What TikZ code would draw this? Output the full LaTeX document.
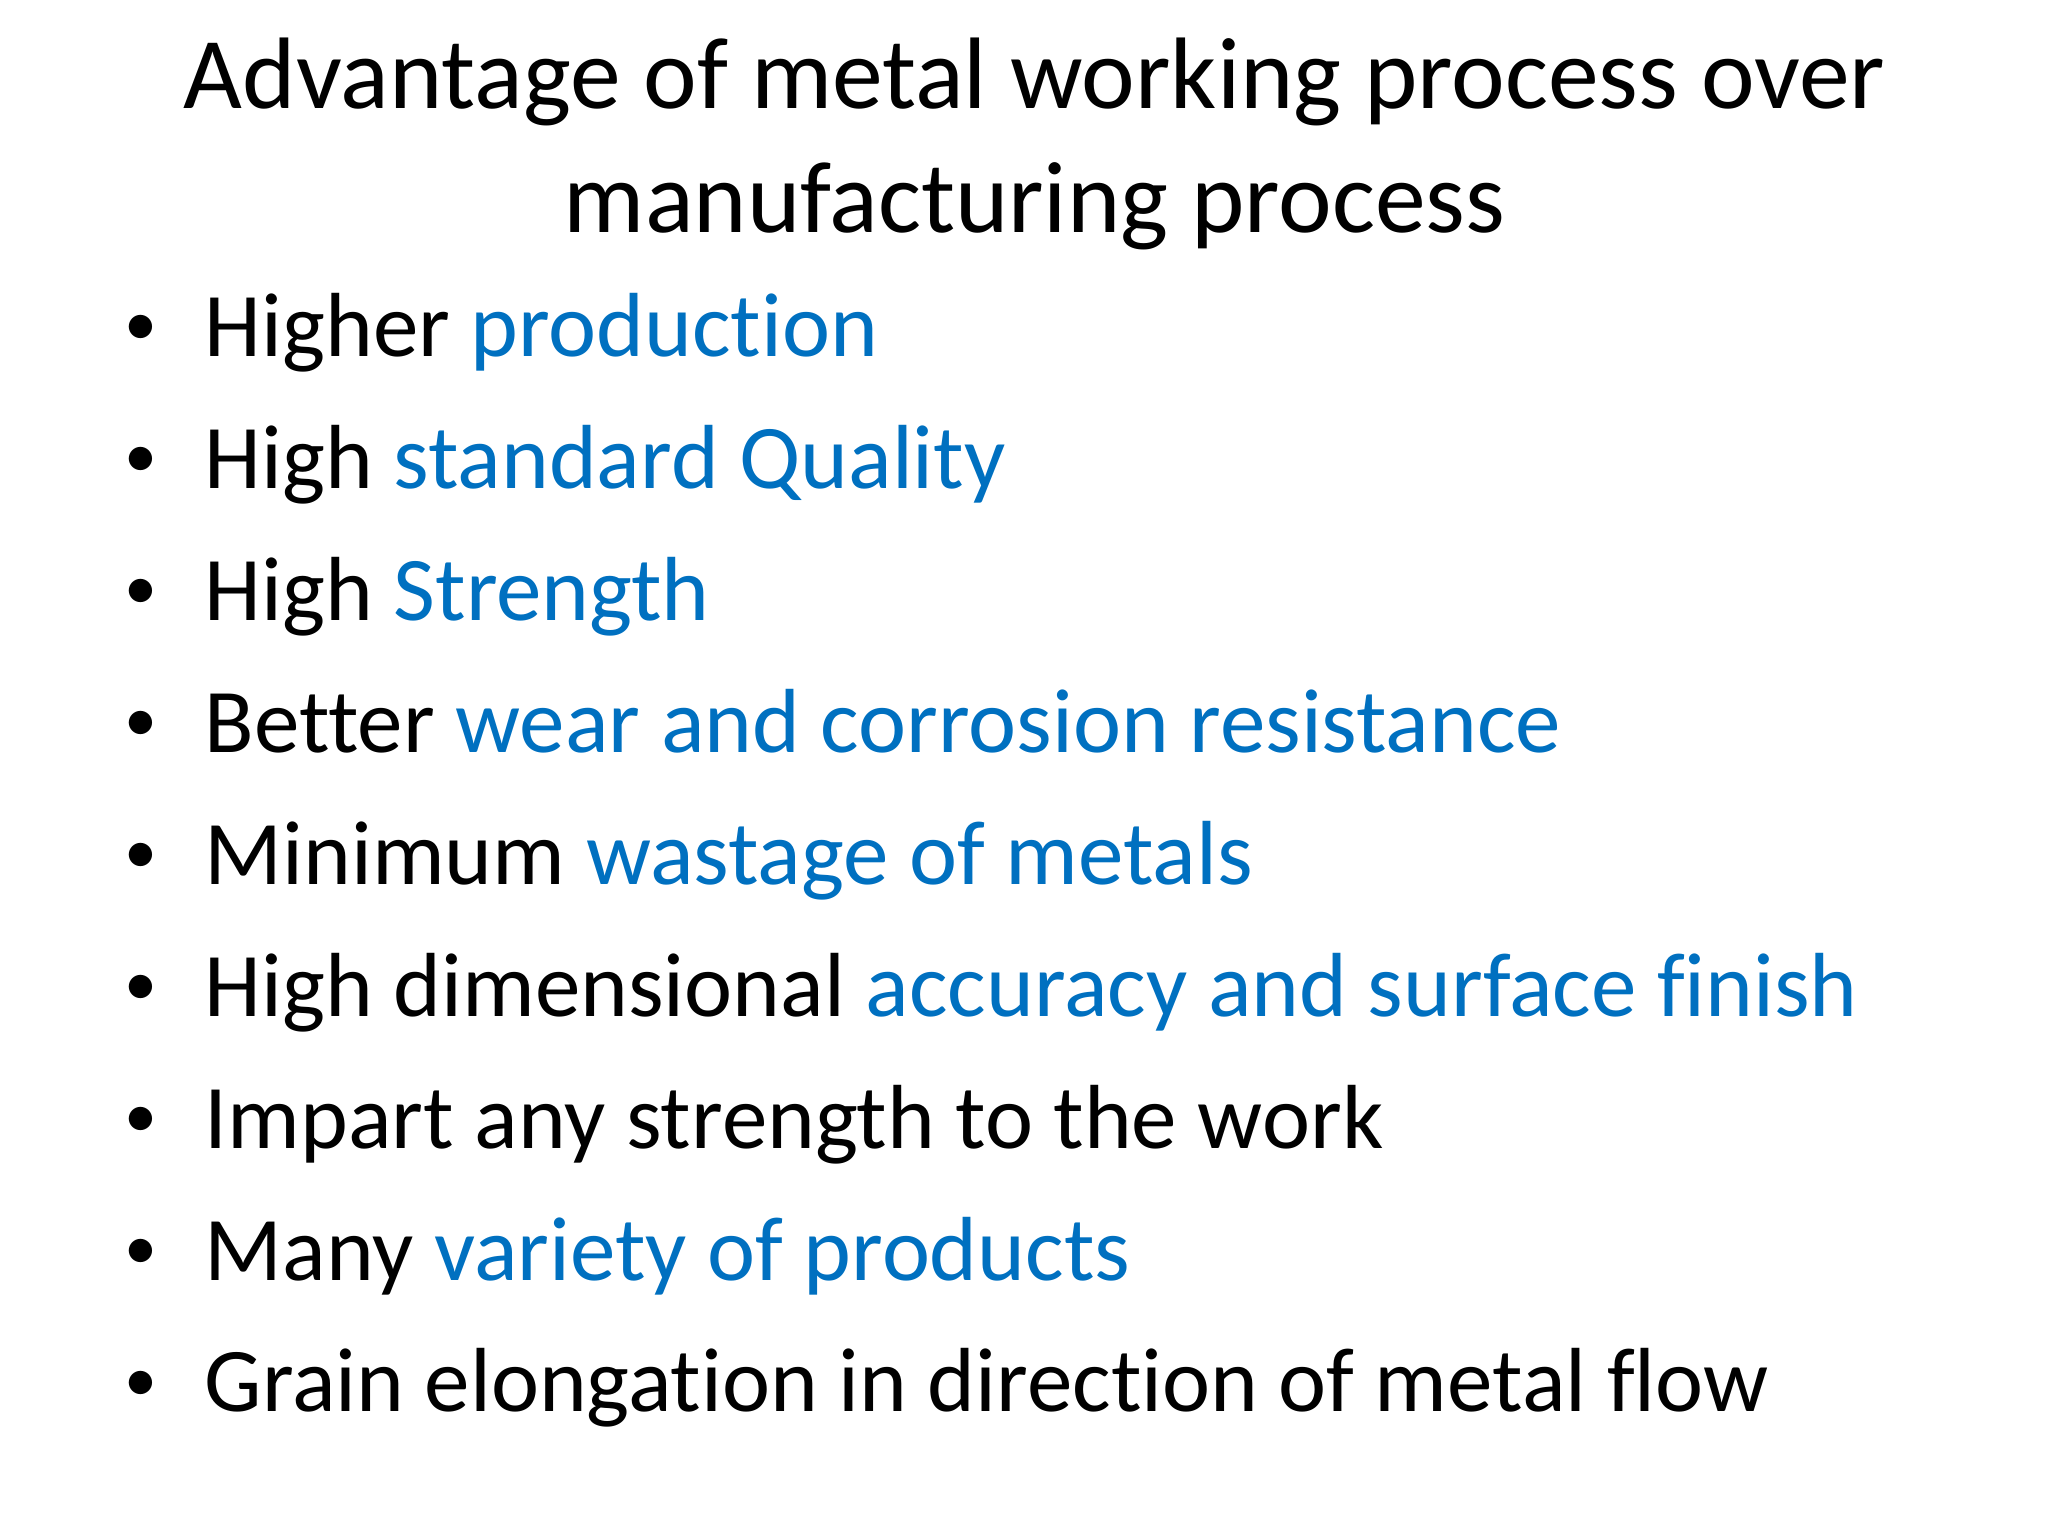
\documentclass[tikz,border=0pt]{standalone}
\usepackage{fontspec}
\setmainfont[Ligatures=NoCommon]{Carlito}
\definecolor{hl}{HTML}{0070C0}
\begin{document}
\begin{tikzpicture}[x=1pt,y=-1pt,
  item/.style={anchor=base west,inner sep=0pt,font=\fontsize{69}{80}\selectfont},
  dot/.style={anchor=base,inner sep=0pt,font=\fontsize{50}{60}\selectfont},
  ttl/.style={anchor=base,inner sep=0pt,font=\fontsize{77}{90}\selectfont}]
\useasboundingbox (0,0) rectangle (1552,1164);
\node[ttl] (t1) at (784,82) {Advantage of metal working process over};
\node[ttl] (t2) at (784,176) {manufacturing process};
\foreach \y/\txt [count=\i] in {
 270/{Higher \textcolor{hl}{production}},
 370/{High \textcolor{hl}{standard Quality}},
 470/{High \textcolor{hl}{Strength}},
 570/{Better \textcolor{hl}{wear and corrosion resistance}},
 670/{Minimum \textcolor{hl}{wastage of metals}},
 770/{High dimensional \textcolor{hl}{accuracy and surface finish}},
 870/{Impart any strength to the work},
 970/{Many \textcolor{hl}{variety of products}},
 1070/{Grain elongation in direction of metal flow}}{
  \node[dot] (b\i) at (107,\y-8) {•};
  \node[item] (i\i) at (155,\y) {\txt};
}
\end{tikzpicture}
\end{document}
